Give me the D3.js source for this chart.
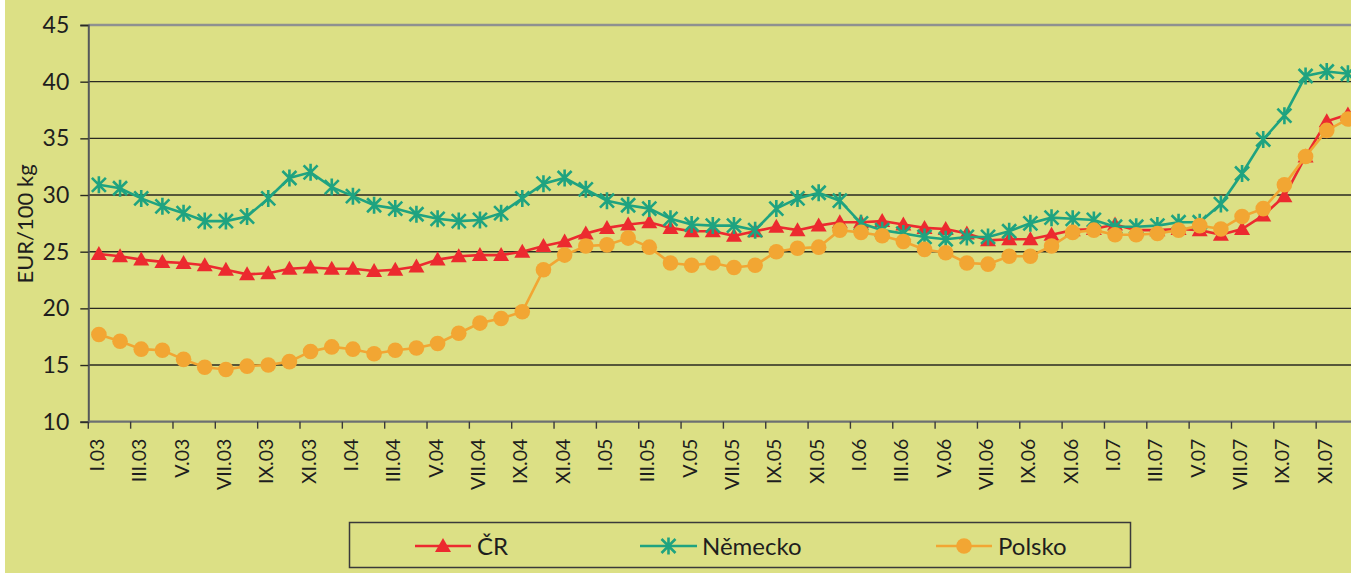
<!DOCTYPE html>
<html>
<head>
<meta charset="utf-8">
<script src="https://cdn.jsdelivr.net/npm/d3@7"></script>
<style>
  body { margin: 0; background: #dce085; }
  svg { display: block; font-family: Lato, "Open Sans", sans-serif; }
</style>
</head>
<body>
<div id="chart"></div>
<script>
// month labels
var romans = ["I", "II", "III", "IV", "V", "VI", "VII", "VIII", "IX", "X", "XI", "XII"];
var years = ["03", "04", "05", "06", "07"];
var yTicks = [10, 15, 20, 25, 30, 35, 40, 45];

// EUR/100 kg, I.03 - XII.07
var cr = [24.8, 24.6, 24.3, 24.1, 24.0, 23.8, 23.4, 23.0, 23.1, 23.5, 23.6, 23.5,
          23.5, 23.3, 23.4, 23.7, 24.3, 24.6, 24.7, 24.7, 25.0, 25.5, 25.9, 26.6,
          27.1, 27.4, 27.6, 27.1, 26.8, 26.8, 26.4, 26.8, 27.2, 26.9, 27.3, 27.6,
          27.6, 27.7, 27.4, 27.1, 27.0, 26.6, 26.0, 26.1, 26.1, 26.5, 26.9, 27.0,
          27.4, 26.9, 26.9, 27.0, 26.9, 26.5, 27.0, 28.2, 29.9, 33.4, 36.5, 37.1];
var nemecko = [30.9, 30.6, 29.7, 29.0, 28.4, 27.7, 27.7, 28.1, 29.7, 31.5, 32.0, 30.7,
               29.9, 29.1, 28.8, 28.3, 27.9, 27.7, 27.8, 28.4, 29.7, 31.0, 31.5, 30.5,
               29.5, 29.1, 28.8, 27.9, 27.4, 27.3, 27.3, 26.9, 28.8, 29.7, 30.2, 29.5,
               27.5, 26.9, 26.6, 26.3, 26.1, 26.3, 26.3, 26.8, 27.5, 28.0, 27.9, 27.8,
               27.2, 27.2, 27.3, 27.6, 27.6, 29.2, 31.9, 34.9, 37.0, 40.5, 40.9, 40.7];
var polsko = [17.7, 17.1, 16.4, 16.3, 15.5, 14.8, 14.6, 14.9, 15.0, 15.3, 16.2, 16.6,
              16.4, 16.0, 16.3, 16.5, 16.9, 17.8, 18.7, 19.1, 19.7, 23.4, 24.7, 25.5,
              25.6, 26.2, 25.4, 24.0, 23.8, 24.0, 23.6, 23.8, 25.0, 25.3, 25.4, 26.9,
              26.7, 26.4, 25.9, 25.2, 24.9, 24.0, 23.9, 24.6, 24.6, 25.5, 26.7, 26.9,
              26.5, 26.5, 26.6, 26.9, 27.3, 27.0, 28.1, 28.8, 30.9, 33.4, 35.7, 36.7];

var months = [];
years.forEach(function(yr) {
    romans.forEach(function(r) { months.push(r + "." + yr); });
});

var series = [
    { name: "ČR", values: cr, color: "#ec2a2f", marker: "triangle" },
    { name: "Německo", values: nemecko, color: "#1fa380", marker: "star" },
    { name: "Polsko", values: polsko, color: "#f2a633", marker: "circle" }
];

var W = 1351, H = 573;
var plotLeft = 88.3, plotTop = 25, plotBottom = 421.7;
var plotRight = plotLeft + months.length * 21.17;

var svg = d3.select("#chart").append("svg")
    .attr("width", W)
    .attr("height", H);

svg.append("rect").attr("width", W).attr("height", H).attr("fill", "#dce085");
svg.append("rect").attr("width", 5).attr("height", H).attr("fill", "#ffffff");

var x = d3.scaleBand().domain(months).range([plotLeft, plotRight]);
var y = d3.scaleLinear().domain([10, 45]).range([plotBottom, plotTop]);

// gridlines
svg.selectAll(".grid")
    .data(yTicks.filter(function(d) { return d > 10 && d < 45; }))
    .enter().append("line")
    .attr("x1", plotLeft).attr("x2", plotRight)
    .attr("y1", function(d) { return y(d); })
    .attr("y2", function(d) { return y(d); })
    .attr("stroke", "#2a2a22")
    .attr("stroke-width", 1.4);

// top border
svg.append("line")
    .attr("x1", plotLeft).attr("x2", plotRight)
    .attr("y1", y(45)).attr("y2", y(45))
    .attr("stroke", "#8e9190").attr("stroke-width", 2.5);

// y axis
var yAxis = svg.append("g")
    .attr("transform", "translate(" + plotLeft + ",0)")
    .call(d3.axisLeft(y).tickValues(yTicks).tickSize(8).tickPadding(11));
yAxis.select(".domain").attr("stroke", "#55585a").attr("stroke-width", 2);
yAxis.selectAll(".tick line").attr("stroke", "#2a2a22").attr("stroke-width", 1.4);
yAxis.selectAll("text")
    .attr("font-family", "Lato, sans-serif")
    .attr("font-size", "23px")
    .attr("fill", "#1e1e1e");

// x axis line
svg.append("line")
    .attr("x1", plotLeft).attr("x2", plotRight)
    .attr("y1", plotBottom).attr("y2", plotBottom)
    .attr("stroke", "#6d7072").attr("stroke-width", 2.2);

var evenMonths = months.filter(function(d, i) { return i % 2 === 0; });

// tick marks at category boundaries
svg.selectAll(".xtick")
    .data(evenMonths)
    .enter().append("line")
    .attr("x1", function(d) { return x(d); })
    .attr("x2", function(d) { return x(d); })
    .attr("y1", plotBottom).attr("y2", plotBottom + 7)
    .attr("stroke", "#3a3a3a").attr("stroke-width", 1.4);

// x labels
svg.selectAll(".xlabel")
    .data(evenMonths)
    .enter().append("text")
    .attr("transform", function(d) {
        return "translate(" + (x(d) + x.bandwidth() / 2 + 5) + "," + (plotBottom + 17) + ") rotate(-90)";
    })
    .attr("text-anchor", "end")
    .attr("font-size", "19.5px")
    .attr("fill", "#1e1e1e")
    .text(function(d) { return d; });

// y label
svg.append("text")
    .attr("transform", "translate(33," + 224 + ") rotate(-90)")
    .attr("text-anchor", "middle")
    .attr("font-size", "22px")
    .attr("fill", "#1e1e1e")
    .text("EUR/100 kg");

function drawMarker(g, type, color) {
    if (type === "triangle") {
        g.append("path")
            .attr("d", "M0,-8L8,6L-8,6Z")
            .attr("fill", color);
    } else if (type === "circle") {
        g.append("circle").attr("r", 7.8).attr("fill", color);
    } else {
        g.append("path")
            .attr("d", "M0,-8.5L0,8.5M-7,-7L7,7M-7,7L7,-7")
            .attr("stroke", color)
            .attr("stroke-width", 2.6)
            .attr("fill", "none");
    }
}

var line = d3.line()
    .x(function(d, i) { return x(months[i]) + x.bandwidth() / 2; })
    .y(function(d) { return y(d); });

series.forEach(function(s) {
    var g = svg.append("g");
    g.append("path")
        .datum(s.values)
        .attr("d", line)
        .attr("fill", "none")
        .attr("stroke", s.color)
        .attr("stroke-width", 2.6);
    s.values.forEach(function(v, i) {
        var m = g.append("g")
            .attr("transform", "translate(" + (x(months[i]) + x.bandwidth() / 2) + "," + y(v) + ")");
        drawMarker(m, s.marker, s.color);
    });
});

// legend
var legend = svg.append("g");
legend.append("rect")
    .attr("x", 349.5).attr("y", 522.5)
    .attr("width", 781).attr("height", 45)
    .attr("fill", "none")
    .attr("stroke", "#3a3a3a")
    .attr("stroke-width", 1.5);

var legendPos = [
    { x1: 415, x2: 471, tx: 477 },
    { x1: 640, x2: 697, tx: 702 },
    { x1: 936, x2: 992, tx: 998 }
];

series.forEach(function(s, i) {
    var p = legendPos[i];
    legend.append("line")
        .attr("x1", p.x1).attr("x2", p.x2)
        .attr("y1", 546).attr("y2", 546)
        .attr("stroke", s.color).attr("stroke-width", 2.6);
    var m = legend.append("g")
        .attr("transform", "translate(" + ((p.x1 + p.x2) / 2) + ",546)");
    drawMarker(m, s.marker, s.color);
    legend.append("text")
        .attr("x", p.tx).attr("y", 555)
        .attr("font-size", "24px")
        .attr("fill", "#1e1e1e")
        .text(s.name);
});
</script>
</body>
</html>
